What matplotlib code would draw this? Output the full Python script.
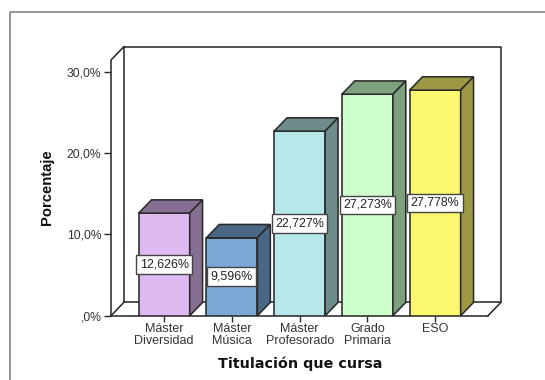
import matplotlib
matplotlib.use("Agg")
import matplotlib.pyplot as plt
from matplotlib.lines import Line2D
from matplotlib.patches import Polygon

categories = ["Máster\nDiversidad", "Máster\nMúsica", "Máster\nProfesorado", "Grado\nPrimaria", "ESO"]
values = [12.626, 9.596, 22.727, 27.273, 27.778]
value_labels = ["12,626%", "9,596%", "22,727%", "27,273%", "27,778%"]
y_ticks = [0, 10, 20, 30]
y_tick_labels = [",0%", "10,0%", "20,0%", "30,0%"]
front_colors = ["#DFB9F1", "#7BA9D6", "#B7E7E8", "#CCFFCC", "#FBF870"]
shade_colors = ["#876E93", "#4A6886", "#6E8C8C", "#7DA07D", "#9C9844"]

W, H = 545, 380
plt.rcParams["font.family"] = ["Liberation Sans", "DejaVu Sans"]
fig = plt.figure(figsize=(W / 100, H / 100), dpi=100, facecolor="white")

# Axes spans the front plane of the 3D box
left, right, bottom, top = 111, 488, 315.7, 60
ax = fig.add_axes([left / W, 1 - bottom / H, (right - left) / W, (bottom - top) / H])
ax.set_xlim(-0.785, 4.78)
ax.set_ylim(0, 31.49)
ax.patch.set_alpha(0)
for s in ax.spines.values():
    s.set_visible(False)

# Oblique depth of the box, in data units
dx, dy = 0.19, 1.64
x0, x1 = ax.get_xlim()
y1 = ax.get_ylim()[1]
edge = "#2A2A2A"
box_lw = 1.15


def box_line(xs, ys, z=1):
    ax.plot(xs, ys, color=edge, lw=box_lw, clip_on=False, zorder=z, solid_capstyle="projecting")


# Back wall, left wall and floor
box_line([x0 + dx, x0 + dx, x1 + dx, x1 + dx, x0 + dx], [dy, y1 + dy, y1 + dy, dy, dy])
box_line([x0, x0, x0 + dx], [0, y1, y1 + dy])
box_line([x0, x0 + dx], [0, dy])
box_line([x1, x1 + dx], [0, dy])
box_line([x0, x1], [0, 0], z=2)

# Bars with shaded top and side faces
width = 0.753
for i, v in enumerate(values):
    a, b = i - width / 2, i + width / 2
    ax.bar(i, v, width=width, color=front_colors[i], edgecolor=edge, linewidth=box_lw, zorder=3)
    ax.add_patch(Polygon([(a, v), (a + dx, v + dy), (b + dx, v + dy), (b, v)], closed=True,
                         facecolor=shade_colors[i], edgecolor=edge, linewidth=box_lw, zorder=3))
    ax.add_patch(Polygon([(b, 0), (b + dx, dy), (b + dx, v + dy), (b, v)], closed=True,
                         facecolor=shade_colors[i], edgecolor=edge, linewidth=box_lw, zorder=3))
    ax.text(i, v / 2, value_labels[i], ha="center", va="center", fontsize=8.9, color="#222222", zorder=5,
            bbox=dict(boxstyle="square,pad=0.27", facecolor="white", edgecolor="#444444", linewidth=1.0))

ax.set_yticks(y_ticks)
ax.set_yticklabels(y_tick_labels)
ax.set_xticks(range(len(categories)))
ax.set_xticklabels(categories, linespacing=0.98)
ax.tick_params(axis="y", length=5.4, width=1.0, color=edge, labelsize=8.7, labelcolor="#333333", pad=1.5)
ax.tick_params(axis="x", length=4.3, width=1.0, color=edge, labelsize=9.0, labelcolor="#333333", pad=1.2)

fig.text(47 / W, 1 - 187.5 / H, "Porcentaje", rotation=90, ha="center", va="center",
         fontsize=10.7, fontweight="bold", color="#111111")
fig.text(300 / W, 1 - 363.5 / H, "Titulación que cursa", ha="center", va="center",
         fontsize=10.3, fontweight="bold", color="#111111", family="DejaVu Sans")

# Open outer frame along the top and left edges
fig.add_artist(Line2D([9.5 / W, 9.5 / W, 1], [0, 1 - 11.5 / H, 1 - 11.5 / H],
                      transform=fig.transFigure, color="#777777", lw=1.1))

fig.savefig("out.png", dpi=100)
